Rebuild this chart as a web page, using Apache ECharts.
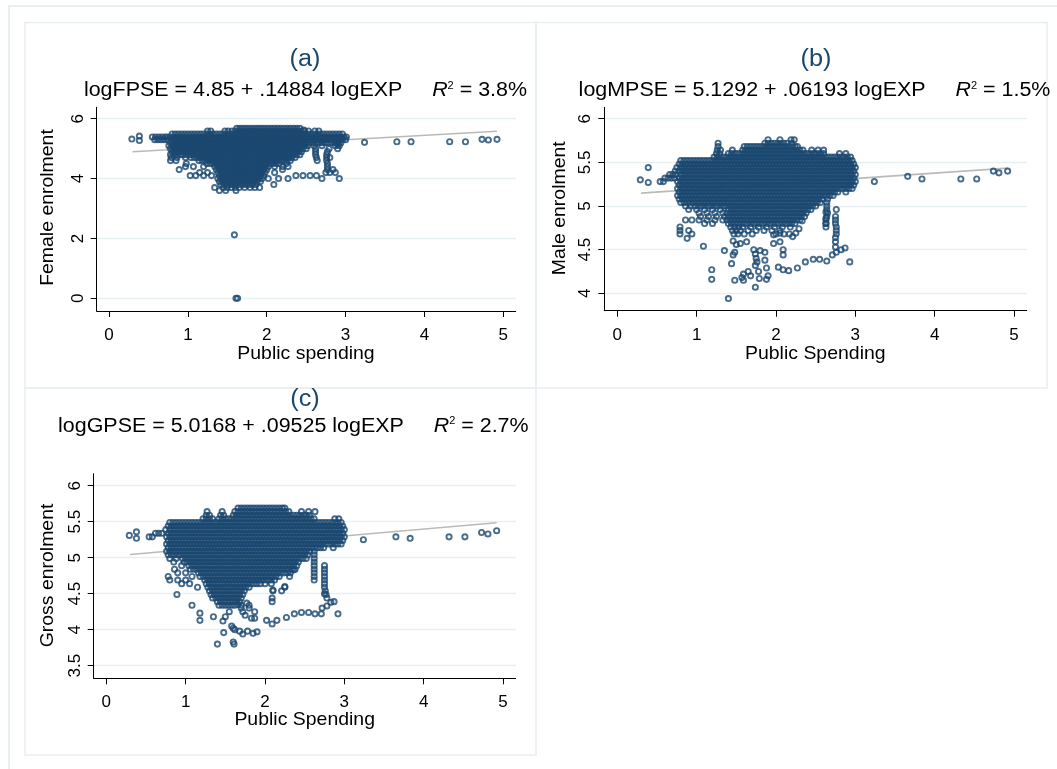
<!DOCTYPE html>
<html><head><meta charset="utf-8">
<script src="https://cdn.jsdelivr.net/npm/echarts@6/dist/echarts.min.js"></script>
<style>html,body{margin:0;padding:0;background:#fff}#c{width:1057px;height:769px}</style>
</head><body><div id="c"></div>
<script>
// ---------- tick labels ----------
const xTicks = [0, 1, 2, 3, 4, 5];
const femaleTicks = [0, 2, 4, 6];
const maleTicks = [4, 4.5, 5, 5.5, 6];
const grossTicks = [3.5, 4, 4.5, 5, 5.5, 6];

// ---------- fitted lines (endpoints) ----------
const femaleFit = [[0.3, 4.895], [4.92, 5.58]];
const maleFit = [[0.3, 5.148], [4.92, 5.434]];
const grossFit = [[0.3, 5.045], [4.92, 5.485]];

// ---------- panel (a): female enrolment, rows of [y, [x...]] ----------
const femaleRows = [
[5.68,[1.62,1.66,1.7,1.74,1.78,1.82,1.86,1.9,1.94,1.98,2.02,2.06,2.1,2.14,2.18,2.22,2.26,2.3,2.34,2.38,2.42]],
[5.59,[1.25,1.29,1.47,1.51,1.56,1.6,1.64,1.68,1.72,1.76,1.8,1.84,1.88,1.92,1.96,2,2.04,2.08,2.12,2.16,2.2,2.24,2.28,2.32,2.36,2.4,2.44,2.48,2.53,2.61,2.66]],
[5.49,[0.8,0.84,0.88,0.92,0.96,1,1.04,1.08,1.12,1.16,1.2,1.24,1.28,1.32,1.36,1.4,1.44,1.48,1.52,1.56,1.6,1.64,1.68,1.72,1.76,1.8,1.84,1.88,1.92,1.96,2,2.04,2.08,2.12,2.16,2.2,2.24,2.28,2.32,2.36,2.4,2.44,2.48,2.52,2.56,2.6,2.64,2.68,2.72,2.76,2.8,2.84,2.88,2.92,2.96]],
[5.39,[0.55,0.59,0.63,0.67,0.71,0.74,0.78,0.82,0.86,0.9,0.94,0.98,1.02,1.06,1.1,1.14,1.18,1.22,1.26,1.3,1.34,1.38,1.42,1.46,1.5,1.54,1.58,1.62,1.66,1.7,1.74,1.78,1.82,1.86,1.9,1.94,1.98,2.02,2.06,2.1,2.14,2.18,2.22,2.26,2.3,2.34,2.38,2.42,2.46,2.5,2.54,2.58,2.62,2.66,2.7,2.74,2.78,2.82,2.86,2.9,2.94,2.98,3.01]],
[5.3,[0.58,0.62,0.66,0.7,0.74,0.8,0.84,0.88,0.92,0.96,1,1.04,1.08,1.12,1.16,1.2,1.24,1.28,1.32,1.36,1.4,1.44,1.48,1.52,1.56,1.6,1.64,1.68,1.72,1.76,1.8,1.84,1.88,1.92,1.96,2,2.04,2.08,2.12,2.16,2.2,2.24,2.28,2.32,2.36,2.4,2.44,2.48,2.52,2.56,2.6,2.64,2.68,2.72,2.76,2.8,2.84,2.88,2.92,2.96,3]],
[5.2,[0.78,0.82,0.86,0.9,0.94,0.98,1.02,1.06,1.1,1.14,1.18,1.22,1.26,1.3,1.34,1.38,1.42,1.46,1.5,1.54,1.58,1.62,1.66,1.7,1.74,1.78,1.82,1.86,1.9,1.94,1.98,2.02,2.06,2.1,2.14,2.18,2.22,2.26,2.3,2.34,2.38,2.42,2.46,2.5,2.54,2.58,2.62,2.66,2.7,2.74,2.78,2.82,2.86,2.9,2.94]],
[5.1,[0.76,0.8,0.84,0.88,0.92,0.96,1,1.04,1.08,1.12,1.16,1.2,1.24,1.28,1.32,1.36,1.4,1.44,1.48,1.52,1.56,1.6,1.64,1.68,1.72,1.76,1.8,1.84,1.88,1.92,1.96,2,2.04,2.08,2.12,2.16,2.2,2.24,2.28,2.32,2.36,2.4,2.44,2.48,2.52,2.6,2.7,2.87,2.92]],
[5.0,[0.78,0.82,0.86,0.9,0.94,0.98,1.02,1.06,1.1,1.14,1.18,1.22,1.26,1.3,1.34,1.38,1.42,1.46,1.5,1.54,1.58,1.62,1.66,1.7,1.74,1.78,1.82,1.86,1.9,1.94,1.98,2.02,2.06,2.1,2.14,2.18,2.22,2.26,2.3,2.34,2.38,2.42,2.46,2.5,2.62,2.79,2.9]],
[4.9,[0.8,0.84,0.88,0.92,0.96,1,1.04,1.08,1.12,1.16,1.2,1.24,1.28,1.32,1.36,1.4,1.44,1.48,1.52,1.56,1.6,1.64,1.68,1.72,1.76,1.8,1.84,1.88,1.92,1.96,2,2.04,2.08,2.12,2.16,2.2,2.24,2.28,2.32,2.36,2.4,2.44,2.62,2.77]],
[4.8,[0.78,0.82,0.86,0.9,0.94,0.98,1.02,1.06,1.1,1.14,1.18,1.22,1.26,1.3,1.34,1.38,1.42,1.46,1.5,1.54,1.58,1.62,1.66,1.7,1.74,1.78,1.82,1.86,1.9,1.94,1.98,2.02,2.06,2.1,2.14,2.18,2.22,2.26,2.3,2.34,2.38,2.42,2.62,2.76]],
[4.7,[0.79,0.86,0.97,1.04,1.08,1.12,1.16,1.2,1.24,1.28,1.32,1.36,1.4,1.44,1.48,1.52,1.56,1.6,1.64,1.68,1.72,1.76,1.8,1.84,1.88,1.92,1.96,2,2.04,2.08,2.12,2.16,2.2,2.24,2.28,2.32,2.36,2.63,2.76,2.8]],
[4.6,[0.78,0.85,1.14,1.18,1.22,1.26,1.3,1.34,1.38,1.42,1.46,1.5,1.54,1.58,1.62,1.66,1.7,1.74,1.78,1.82,1.86,1.9,1.94,1.98,2.02,2.06,2.1,2.14,2.18,2.22,2.26,2.3,2.64,2.76]],
[4.5,[0.98,1.24,1.28,1.32,1.36,1.4,1.44,1.48,1.52,1.56,1.6,1.64,1.68,1.72,1.76,1.8,1.84,1.88,1.92,1.96,2,2.04,2.08,2.12,2.16,2.25,2.77]],
[4.4,[0.97,1.07,1.2,1.34,1.38,1.42,1.46,1.5,1.54,1.58,1.62,1.66,1.7,1.74,1.78,1.82,1.86,1.9,1.94,1.98,2.02,2.1,2.2,2.27,2.77]],
[4.3,[0.89,1.36,1.4,1.44,1.48,1.52,1.56,1.6,1.64,1.68,1.72,1.76,1.8,1.84,1.88,1.92,1.96,2,2.2,2.77,2.84]],
[4.2,[1.15,1.25,1.38,1.42,1.46,1.5,1.54,1.58,1.62,1.66,1.7,1.74,1.78,1.82,1.86,1.9,1.94,1.98,2.1,2.75,2.8,2.87]],
[4.1,[1.03,1.1,1.2,1.3,1.4,1.44,1.48,1.52,1.56,1.6,1.64,1.68,1.72,1.76,1.8,1.84,1.88,1.92,1.96,2.37,2.46,2.55,2.63]],
[4.0,[1.38,1.42,1.46,1.5,1.54,1.58,1.62,1.66,1.7,1.74,1.78,1.82,1.86,1.9,1.94,2.02,2.15,2.27,2.7,2.92]],
[3.9,[1.4,1.44,1.48,1.52,1.56,1.6,1.64,1.68,1.72,1.76,1.8,1.84,1.88,1.92]],
[3.8,[1.42,1.46,1.5,1.54,1.58,1.62,1.66,1.7,1.74,1.78,1.82,1.86,2.09]],
[3.7,[1.34,1.45,1.5,1.55,1.6,1.65,1.72,1.79,1.85,1.91]],
[3.6,[1.4,1.48,1.61]]
];
const femaleOutliers = [[0.29,5.32],[0.385,5.42],[0.385,5.27],[3.24,5.21],[3.65,5.23],[3.83,5.23],[4.32,5.23],[4.52,5.23],[4.73,5.31],[4.81,5.29],[4.92,5.31],[1.59,2.12],[1.61,0],[1.63,0],[2.47,5.62],[2.9,5.15]];

// ---------- panel (b): male enrolment ----------
const maleRows = [
[5.76,[1.9,2.05,2.19,2.23]],
[5.72,[1.27,1.86,1.9,1.94,1.98,2.02,2.06,2.1,2.14,2.2]],
[5.68,[1.27,1.6,1.64,1.68,1.72,1.76,1.8,1.84,1.88,1.92,1.96,2,2.04,2.08,2.12,2.16,2.2,2.24,2.27]],
[5.64,[1.26,1.3,1.45,1.58,1.62,1.66,1.7,1.74,1.78,1.82,1.86,1.9,1.94,1.98,2.02,2.06,2.1,2.14,2.18,2.22,2.26,2.3,2.34,2.45,2.53,2.6]],
[5.6,[1.25,1.29,1.4,1.44,1.48,1.52,1.56,1.6,1.64,1.68,1.72,1.76,1.8,1.84,1.88,1.92,1.96,2,2.04,2.08,2.12,2.16,2.2,2.24,2.28,2.32,2.36,2.4,2.44,2.48,2.52,2.56,2.6,2.8,2.88]],
[5.56,[1.22,1.26,1.3,1.34,1.38,1.42,1.46,1.5,1.54,1.58,1.62,1.66,1.7,1.74,1.78,1.82,1.86,1.9,1.94,1.98,2.02,2.06,2.1,2.14,2.18,2.22,2.26,2.3,2.34,2.38,2.42,2.46,2.5,2.54,2.58,2.62,2.66,2.7,2.74,2.78,2.82,2.86,2.9,2.94]],
[5.52,[0.8,0.84,0.88,0.92,0.96,1,1.04,1.08,1.12,1.16,1.2,1.24,1.28,1.32,1.36,1.4,1.44,1.48,1.52,1.56,1.6,1.64,1.68,1.72,1.76,1.8,1.84,1.88,1.92,1.96,2,2.04,2.08,2.12,2.16,2.2,2.24,2.28,2.32,2.36,2.4,2.44,2.48,2.52,2.56,2.6,2.64,2.68,2.72,2.76,2.8,2.84,2.88,2.92,2.96]],
[5.48,[0.78,0.82,0.86,0.9,0.94,0.98,1.02,1.06,1.1,1.14,1.18,1.22,1.26,1.3,1.34,1.38,1.42,1.46,1.5,1.54,1.58,1.62,1.66,1.7,1.74,1.78,1.82,1.86,1.9,1.94,1.98,2.02,2.06,2.1,2.14,2.18,2.22,2.26,2.3,2.34,2.38,2.42,2.46,2.5,2.54,2.58,2.62,2.66,2.7,2.74,2.78,2.82,2.86,2.9,2.94,2.98]],
[5.44,[0.75,0.8,0.84,0.88,0.92,0.96,1,1.04,1.08,1.12,1.16,1.2,1.24,1.28,1.32,1.36,1.4,1.44,1.48,1.52,1.56,1.6,1.64,1.68,1.72,1.76,1.8,1.84,1.88,1.92,1.96,2,2.04,2.08,2.12,2.16,2.2,2.24,2.28,2.32,2.36,2.4,2.44,2.48,2.52,2.56,2.6,2.64,2.68,2.72,2.76,2.8,2.84,2.88,2.92,2.96,3]],
[5.4,[0.73,0.78,0.82,0.86,0.9,0.94,0.98,1.02,1.06,1.1,1.14,1.18,1.22,1.26,1.3,1.34,1.38,1.42,1.46,1.5,1.54,1.58,1.62,1.66,1.7,1.74,1.78,1.82,1.86,1.9,1.94,1.98,2.02,2.06,2.1,2.14,2.18,2.22,2.26,2.3,2.34,2.38,2.42,2.46,2.5,2.54,2.58,2.62,2.66,2.7,2.74,2.78,2.82,2.86,2.9,2.94,2.98]],
[5.36,[0.66,0.7,0.74,0.8,0.84,0.88,0.92,0.96,1,1.04,1.08,1.12,1.16,1.2,1.24,1.28,1.32,1.36,1.4,1.44,1.48,1.52,1.56,1.6,1.64,1.68,1.72,1.76,1.8,1.84,1.88,1.92,1.96,2,2.04,2.08,2.12,2.16,2.2,2.24,2.28,2.32,2.36,2.4,2.44,2.48,2.52,2.56,2.6,2.64,2.68,2.72,2.76,2.8,2.84,2.88,2.92,2.96,3]],
[5.32,[0.6,0.64,0.68,0.72,0.78,0.82,0.86,0.9,0.94,0.98,1.02,1.06,1.1,1.14,1.18,1.22,1.26,1.3,1.34,1.38,1.42,1.46,1.5,1.54,1.58,1.62,1.66,1.7,1.74,1.78,1.82,1.86,1.9,1.94,1.98,2.02,2.06,2.1,2.14,2.18,2.22,2.26,2.3,2.34,2.38,2.42,2.46,2.5,2.54,2.58,2.62,2.66,2.7,2.74,2.78,2.82,2.86,2.9,2.94,2.98]],
[5.28,[0.54,0.58,0.76,0.8,0.84,0.88,0.92,0.96,1,1.04,1.08,1.12,1.16,1.2,1.24,1.28,1.32,1.36,1.4,1.44,1.48,1.52,1.56,1.6,1.64,1.68,1.72,1.76,1.8,1.84,1.88,1.92,1.96,2,2.04,2.08,2.12,2.16,2.2,2.24,2.28,2.32,2.36,2.4,2.44,2.48,2.52,2.56,2.6,2.64,2.68,2.72,2.76,2.8,2.84,2.88,2.92,2.96,3]],
[5.24,[0.78,0.82,0.86,0.9,0.94,0.98,1.02,1.06,1.1,1.14,1.18,1.22,1.26,1.3,1.34,1.38,1.42,1.46,1.5,1.54,1.58,1.62,1.66,1.7,1.74,1.78,1.82,1.86,1.9,1.94,1.98,2.02,2.06,2.1,2.14,2.18,2.22,2.26,2.3,2.34,2.38,2.42,2.46,2.5,2.54,2.58,2.62,2.66,2.7,2.74,2.78,2.82,2.86,2.9,2.94,2.98]],
[5.2,[0.76,0.8,0.84,0.88,0.92,0.96,1,1.04,1.08,1.12,1.16,1.2,1.24,1.28,1.32,1.36,1.4,1.44,1.48,1.52,1.56,1.6,1.64,1.68,1.72,1.76,1.8,1.84,1.88,1.92,1.96,2,2.04,2.08,2.12,2.16,2.2,2.24,2.28,2.32,2.36,2.4,2.44,2.48,2.52,2.56,2.6,2.64,2.68,2.72,2.76,2.8,2.84,2.88,2.92,2.96]],
[5.16,[0.78,0.82,0.86,0.9,0.94,0.98,1.02,1.06,1.1,1.14,1.18,1.22,1.26,1.3,1.34,1.38,1.42,1.46,1.5,1.54,1.58,1.62,1.66,1.7,1.74,1.78,1.82,1.86,1.9,1.94,1.98,2.02,2.06,2.1,2.14,2.18,2.22,2.26,2.3,2.34,2.38,2.42,2.46,2.5,2.54,2.58,2.62,2.66,2.7,2.74,2.78,2.88]],
[5.12,[0.76,0.8,0.84,0.88,0.92,0.96,1,1.04,1.08,1.12,1.16,1.2,1.24,1.28,1.32,1.36,1.4,1.44,1.48,1.52,1.56,1.6,1.64,1.68,1.72,1.76,1.8,1.84,1.88,1.92,1.96,2,2.04,2.08,2.12,2.16,2.2,2.24,2.28,2.32,2.36,2.4,2.44,2.48,2.52,2.56,2.6,2.64,2.68,2.72]],
[5.08,[0.78,0.82,0.86,0.9,0.94,0.98,1.02,1.06,1.1,1.14,1.18,1.22,1.26,1.3,1.34,1.38,1.42,1.46,1.5,1.54,1.58,1.62,1.66,1.7,1.74,1.78,1.82,1.86,1.9,1.94,1.98,2.02,2.06,2.1,2.14,2.18,2.22,2.26,2.3,2.34,2.38,2.42,2.46,2.5,2.54,2.58,2.65]],
[5.04,[0.8,0.84,0.88,0.92,0.96,1,1.04,1.08,1.12,1.16,1.2,1.24,1.28,1.32,1.36,1.4,1.44,1.48,1.52,1.56,1.6,1.64,1.68,1.72,1.76,1.8,1.84,1.88,1.92,1.96,2,2.04,2.08,2.12,2.16,2.2,2.24,2.28,2.32,2.36,2.4,2.44,2.48,2.52,2.56,2.64]],
[5.0,[0.86,0.92,0.98,1.02,1.06,1.1,1.14,1.18,1.22,1.26,1.3,1.34,1.38,1.42,1.46,1.5,1.54,1.58,1.62,1.66,1.7,1.74,1.78,1.82,1.86,1.9,1.94,1.98,2.02,2.06,2.1,2.14,2.18,2.22,2.26,2.3,2.34,2.38,2.42,2.46,2.5,2.64]],
[4.96,[0.9,1,1.1,1.2,1.3,1.4,1.44,1.48,1.52,1.56,1.6,1.64,1.68,1.72,1.76,1.8,1.84,1.88,1.92,1.96,2,2.04,2.08,2.12,2.16,2.2,2.24,2.28,2.32,2.36,2.4,2.44,2.64,2.76]],
[4.92,[1.03,1.13,1.23,1.33,1.38,1.42,1.46,1.5,1.54,1.58,1.62,1.66,1.7,1.74,1.78,1.82,1.86,1.9,1.94,1.98,2.02,2.06,2.1,2.14,2.18,2.22,2.26,2.3,2.34,2.38,2.65]],
[4.88,[1.05,1.15,1.25,1.35,1.4,1.44,1.48,1.52,1.56,1.6,1.64,1.68,1.72,1.76,1.8,1.84,1.88,1.92,1.96,2,2.04,2.08,2.12,2.16,2.2,2.24,2.28,2.32,2.36,2.64,2.75]],
[4.84,[0.86,0.94,1.03,1.13,1.23,1.33,1.38,1.42,1.46,1.5,1.54,1.58,1.62,1.66,1.7,1.74,1.78,1.82,1.86,1.9,1.94,1.98,2.02,2.06,2.1,2.14,2.18,2.22,2.26,2.3,2.63,2.75]],
[4.8,[1.1,1.2,1.4,1.44,1.48,1.52,1.56,1.6,1.64,1.68,1.72,1.76,1.8,1.84,1.88,1.92,1.96,2,2.04,2.08,2.12,2.16,2.2,2.24,2.63,2.75]],
[4.76,[0.79,1.43,1.48,1.53,1.58,1.68,1.78,1.88,1.98,2.08,2.18,2.63,2.76]],
[4.72,[0.79,0.9,1.45,1.5,1.55,1.65,1.75,1.85,1.95,2.05,2.76]],
[4.68,[0.79,0.94,1.47,1.52,1.6,1.7,2,2.1,2.17,2.76]]
];
const maleOutliers = [[0.29,5.3],[0.39,5.44],[0.39,5.27],[3.24,5.28],[3.66,5.34],[3.84,5.31],[4.33,5.31],[4.53,5.31],[4.74,5.4],[4.81,5.38],[4.92,5.4],
[0.88,4.63],[1.085,4.54],[1.19,4.27],[1.19,4.16],[1.35,4.49],[1.4,3.94],[1.44,4.34],[1.46,4.44],[1.48,4.47],[1.48,4.15],[1.46,4.6],[1.5,4.56],[1.55,4.57],[1.63,4.59],[1.59,4.22],[1.57,4.18],[1.59,4.15],[1.65,4.25],[1.68,4.2],[1.74,4.07],[1.72,4.5],[1.74,4.45],[1.75,4.4],[1.76,4.36],[1.74,4.32],[1.78,4.25],[1.79,4.17],[1.88,4.16],[1.9,4.2],[1.88,4.29],[1.86,4.38],[1.8,4.49],[1.86,4.47],[1.97,4.57],[2.05,4.59],[1.97,4.67],[2.05,4.69],[2.03,4.3],[2.09,4.27],[2.16,4.26],[2.09,4.5],[2.09,4.44],[2.27,4.29],[2.21,4.65],[2.25,4.69],[2.29,4.74],[2.33,4.83],[2.37,4.36],[2.47,4.39],[2.55,4.39],[2.64,4.37],[2.71,4.44],[2.76,4.47],[2.82,4.5],[2.87,4.52],[2.93,4.36],[2.75,4.53],[2.75,4.59],[2.75,4.64],[2.63,4.93],[2.63,4.86],[2.63,4.8]];

// ---------- panel (c): gross enrolment ----------
const grossRows = [
[5.69,[1.66,1.7,1.74,1.78,1.82,1.86,1.9,1.94,1.98,2.02,2.06,2.1,2.14,2.18,2.22,2.25]],
[5.64,[1.27,1.46,1.62,1.66,1.7,1.74,1.78,1.82,1.86,1.9,1.94,1.98,2.02,2.06,2.1,2.14,2.18,2.22,2.26,2.3,2.46,2.55,2.63]],
[5.59,[1.26,1.3,1.44,1.48,1.6,1.64,1.68,1.72,1.76,1.8,1.84,1.88,1.92,1.96,2,2.04,2.08,2.12,2.16,2.2,2.24,2.28,2.32,2.36,2.4,2.44,2.48,2.52,2.56]],
[5.54,[1.22,1.26,1.3,1.34,1.42,1.46,1.5,1.54,1.58,1.62,1.66,1.7,1.74,1.78,1.82,1.86,1.9,1.94,1.98,2.02,2.06,2.1,2.14,2.18,2.22,2.26,2.3,2.34,2.38,2.42,2.46,2.5,2.54,2.58,2.62,2.88,2.93]],
[5.49,[0.8,0.84,0.88,0.92,0.96,1,1.04,1.08,1.12,1.16,1.2,1.24,1.28,1.32,1.36,1.4,1.44,1.48,1.52,1.56,1.6,1.64,1.68,1.72,1.76,1.8,1.84,1.88,1.92,1.96,2,2.04,2.08,2.12,2.16,2.2,2.24,2.28,2.32,2.36,2.4,2.44,2.48,2.52,2.56,2.6,2.64,2.68,2.72,2.76,2.8,2.84,2.88,2.92,2.96]],
[5.44,[0.78,0.82,0.86,0.9,0.94,0.98,1.02,1.06,1.1,1.14,1.18,1.22,1.26,1.3,1.34,1.38,1.42,1.46,1.5,1.54,1.58,1.62,1.66,1.7,1.74,1.78,1.82,1.86,1.9,1.94,1.98,2.02,2.06,2.1,2.14,2.18,2.22,2.26,2.3,2.34,2.38,2.42,2.46,2.5,2.54,2.58,2.62,2.66,2.7,2.74,2.78,2.82,2.86,2.9,2.94,2.98]],
[5.39,[0.75,0.8,0.84,0.88,0.92,0.96,1,1.04,1.08,1.12,1.16,1.2,1.24,1.28,1.32,1.36,1.4,1.44,1.48,1.52,1.56,1.6,1.64,1.68,1.72,1.76,1.8,1.84,1.88,1.92,1.96,2,2.04,2.08,2.12,2.16,2.2,2.24,2.28,2.32,2.36,2.4,2.44,2.48,2.52,2.56,2.6,2.64,2.68,2.72,2.76,2.8,2.84,2.88,2.92,2.96,3]],
[5.34,[0.62,0.66,0.7,0.78,0.82,0.86,0.9,0.94,0.98,1.02,1.06,1.1,1.14,1.18,1.22,1.26,1.3,1.34,1.38,1.42,1.46,1.5,1.54,1.58,1.62,1.66,1.7,1.74,1.78,1.82,1.86,1.9,1.94,1.98,2.02,2.06,2.1,2.14,2.18,2.22,2.26,2.3,2.34,2.38,2.42,2.46,2.5,2.54,2.58,2.62,2.66,2.7,2.74,2.78,2.82,2.86,2.9,2.94,2.98]],
[5.29,[0.54,0.58,0.76,0.8,0.84,0.88,0.92,0.96,1,1.04,1.08,1.12,1.16,1.2,1.24,1.28,1.32,1.36,1.4,1.44,1.48,1.52,1.56,1.6,1.64,1.68,1.72,1.76,1.8,1.84,1.88,1.92,1.96,2,2.04,2.08,2.12,2.16,2.2,2.24,2.28,2.32,2.36,2.4,2.44,2.48,2.52,2.56,2.6,2.64,2.68,2.72,2.76,2.8,2.84,2.88,2.92,2.96,3]],
[5.24,[0.78,0.82,0.86,0.9,0.94,0.98,1.02,1.06,1.1,1.14,1.18,1.22,1.26,1.3,1.34,1.38,1.42,1.46,1.5,1.54,1.58,1.62,1.66,1.7,1.74,1.78,1.82,1.86,1.9,1.94,1.98,2.02,2.06,2.1,2.14,2.18,2.22,2.26,2.3,2.34,2.38,2.42,2.46,2.5,2.54,2.58,2.62,2.66,2.7,2.74,2.78,2.82,2.86,2.9,2.94,2.98]],
[5.19,[0.76,0.8,0.84,0.88,0.92,0.96,1,1.04,1.08,1.12,1.16,1.2,1.24,1.28,1.32,1.36,1.4,1.44,1.48,1.52,1.56,1.6,1.64,1.68,1.72,1.76,1.8,1.84,1.88,1.92,1.96,2,2.04,2.08,2.12,2.16,2.2,2.24,2.28,2.32,2.36,2.4,2.44,2.48,2.52,2.56,2.6,2.64,2.68,2.72,2.76,2.8,2.84,2.88,2.92,2.96]],
[5.14,[0.78,0.82,0.86,0.9,0.94,0.98,1.02,1.06,1.1,1.14,1.18,1.22,1.26,1.3,1.34,1.38,1.42,1.46,1.5,1.54,1.58,1.62,1.66,1.7,1.74,1.78,1.82,1.86,1.9,1.94,1.98,2.02,2.06,2.1,2.14,2.18,2.22,2.26,2.3,2.34,2.38,2.42,2.46,2.5,2.54,2.58,2.62,2.66,2.7,2.74,2.86]],
[5.09,[0.76,0.8,0.84,0.88,0.92,0.96,1,1.04,1.08,1.12,1.16,1.2,1.24,1.28,1.32,1.36,1.4,1.44,1.48,1.52,1.56,1.6,1.64,1.68,1.72,1.76,1.8,1.84,1.88,1.92,1.96,2,2.04,2.08,2.12,2.16,2.2,2.24,2.28,2.32,2.36,2.4,2.44,2.48,2.52,2.56,2.62]],
[5.04,[0.78,0.82,0.86,0.9,0.94,0.98,1.02,1.06,1.1,1.14,1.18,1.22,1.26,1.3,1.34,1.38,1.42,1.46,1.5,1.54,1.58,1.62,1.66,1.7,1.74,1.78,1.82,1.86,1.9,1.94,1.98,2.02,2.06,2.1,2.14,2.18,2.22,2.26,2.3,2.34,2.38,2.42,2.46,2.5,2.54,2.62]],
[4.99,[0.8,0.88,0.96,1,1.04,1.08,1.12,1.16,1.2,1.24,1.28,1.32,1.36,1.4,1.44,1.48,1.52,1.56,1.6,1.64,1.68,1.72,1.76,1.8,1.84,1.88,1.92,1.96,2,2.04,2.08,2.12,2.16,2.2,2.24,2.28,2.32,2.36,2.4,2.44,2.48,2.52,2.62]],
[4.94,[0.85,0.98,1.02,1.06,1.1,1.14,1.18,1.22,1.26,1.3,1.34,1.38,1.42,1.46,1.5,1.54,1.58,1.62,1.66,1.7,1.74,1.78,1.82,1.86,1.9,1.94,1.98,2.02,2.06,2.1,2.14,2.18,2.22,2.26,2.3,2.34,2.38,2.42,2.62]],
[4.89,[0.95,1.04,1.08,1.12,1.16,1.2,1.24,1.28,1.32,1.36,1.4,1.44,1.48,1.52,1.56,1.6,1.64,1.68,1.72,1.76,1.8,1.84,1.88,1.92,1.96,2,2.04,2.08,2.12,2.16,2.2,2.24,2.28,2.32,2.36,2.4,2.62,2.75]],
[4.84,[0.86,1.06,1.1,1.14,1.18,1.22,1.26,1.3,1.34,1.38,1.42,1.46,1.5,1.54,1.58,1.62,1.66,1.7,1.74,1.78,1.82,1.86,1.9,1.94,1.98,2.02,2.06,2.1,2.14,2.18,2.22,2.26,2.3,2.34,2.38,2.62,2.75]],
[4.79,[0.9,1,1.16,1.2,1.24,1.28,1.32,1.36,1.4,1.44,1.48,1.52,1.56,1.6,1.64,1.68,1.72,1.76,1.8,1.84,1.88,1.92,1.96,2,2.04,2.08,2.12,2.16,2.2,2.24,2.28,2.32,2.62,2.75]],
[4.74,[0.78,1.08,1.18,1.22,1.26,1.3,1.34,1.38,1.42,1.46,1.5,1.54,1.58,1.62,1.66,1.7,1.74,1.78,1.82,1.86,1.9,1.94,1.98,2.02,2.06,2.1,2.14,2.18,2.31,2.62,2.75]],
[4.69,[0.8,0.9,1,1.24,1.28,1.32,1.36,1.4,1.44,1.48,1.52,1.56,1.6,1.64,1.68,1.72,1.76,1.8,1.84,1.88,1.92,1.96,2,2.04,2.08,2.12,2.62,2.75]],
[4.64,[0.95,1.05,1.26,1.3,1.34,1.38,1.42,1.46,1.5,1.54,1.58,1.62,1.66,1.7,1.74,1.78,1.82,1.86,1.9,1.94,2,2.08,2.75]],
[4.59,[1.15,1.28,1.32,1.36,1.4,1.44,1.48,1.52,1.56,1.6,1.64,1.68,1.72,1.76,1.8,2.25,2.75]],
[4.54,[1.3,1.34,1.38,1.42,1.46,1.5,1.54,1.58,1.62,1.66,1.7,1.74,2.1,2.21,2.76]],
[4.49,[0.89,1.32,1.36,1.4,1.44,1.48,1.52,1.56,1.6,1.64,1.68,1.72,2.77]],
[4.44,[1.34,1.38,1.42,1.46,1.5,1.54,1.58,1.62,1.66,1.7,2.09,2.78]],
[4.39,[1.4,1.44,1.48,1.52,1.56,1.6,1.64,1.68,2.09,2.87]],
[4.34,[1.08,1.42,1.46,1.5,1.54,1.58,1.62,1.7,1.8]]
];
const grossOutliers = [[0.29,5.31],[0.38,5.36],[0.38,5.27],[3.24,5.25],[3.65,5.29],[3.83,5.27],[4.32,5.29],[4.52,5.29],[4.73,5.35],[4.81,5.33],[4.92,5.375],
[1.18,4.23],[1.18,4.13],[1.35,4.18],[1.4,3.8],[1.48,3.96],[1.6,3.83],[1.61,3.8],[1.5,4.18],[1.47,4.12],[1.55,4.25],[1.58,4.05],[1.6,4.02],[1.62,4],[1.68,3.98],[1.72,3.94],[1.78,3.98],[1.85,3.95],[1.9,3.97],[1.87,4.25],[1.87,4.16],[1.83,4.16],[1.75,4.2],[1.72,4.25],[1.7,4.3],[1.8,4.3],[1.66,4.35],[1.77,4.37],[2.1,4.55],[2.25,4.6],[2.36,4.83],[2.02,4.13],[2.09,4.08],[2.15,4.13],[2.27,4.17],[2.37,4.22],[2.46,4.24],[2.55,4.24],[2.63,4.22],[2.71,4.22],[2.72,4.3],[2.78,4.33],[2.83,4.38],[2.92,4.22],[2.75,4.5]];

// ---------- build ----------
function toPoints(rows, extra) {
  const pts = [];
  rows.forEach(function (r) { r[1].forEach(function (x) { pts.push([x, r[0]]); }); });
  return pts.concat(extra);
}
const NAVY = '#1a476f', GRID = '#e6eff2', BORDER = '#e8eff1', FONT = '"Liberation Sans", Arial, sans-serif';
const panels = [
  {grid:{left:96.7, top:107.3, width:419, height:203.7}, x:[-0.156,5.157], y:[-0.424,6.381], yt:femaleTicks, pts:toPoints(femaleRows,femaleOutliers), fit:femaleFit},
  {grid:{left:604.3, top:107.3, width:422.4, height:203.4}, x:[-0.164,5.16], y:[3.801,6.131], yt:maleTicks, pts:toPoints(maleRows,maleOutliers), fit:maleFit},
  {grid:{left:93.7, top:473.7, width:422, height:204.6}, x:[-0.159,5.16], y:[3.325,6.167], yt:grossTicks, pts:toPoints(grossRows,grossOutliers), fit:grossFit}
];
const grids = [], xAxes = [], yAxes = [], series = [];
panels.forEach(function (p, i) {
  grids.push(Object.assign({containLabel:false}, p.grid));
  xAxes.push({type:'value', gridIndex:i, min:p.x[0], max:p.x[1],
    axisLine:{show:true, onZero:false, lineStyle:{color:'#000', width:1}},
    axisTick:{show:true, length:6, customValues:xTicks, lineStyle:{color:'#000', width:1}},
    axisLabel:{customValues:xTicks, fontSize:17, color:'#000', fontFamily:FONT, margin:16},
    splitLine:{show:false}});
  yAxes.push({type:'value', gridIndex:i, min:p.y[0], max:p.y[1],
    axisLine:{show:true, onZero:false, lineStyle:{color:'#000', width:1}},
    axisTick:{show:true, length:6, customValues:p.yt, lineStyle:{color:'#000', width:1}},
    axisLabel:{customValues:p.yt, fontSize:17, color:'#000', fontFamily:FONT, rotate:90, margin:10},
    splitLine:{show:true, lineStyle:{color:GRID, width:1.3}}});
  series.push({type:'line', xAxisIndex:i, yAxisIndex:i, data:p.fit, symbol:'none', silent:true, z:1,
    lineStyle:{color:'#bababa', width:1.6}});
  series.push({type:'scatter', xAxisIndex:i, yAxisIndex:i, data:p.pts, symbol:'circle', symbolSize:5.2,
    silent:true, z:2, progressive:0, large:false,
    itemStyle:{color:'rgba(0,0,0,0)', borderColor:NAVY, borderWidth:1.9}});
});

function txt(x, y, text, size, color, opts) {
  opts = opts || {};
  return {type:'text', x:x, y:y, rotation:opts.rot || 0, scaleX:opts.sx || 1, silent:true, z:10,
    style:{text:text, fontSize:size, fontFamily:FONT, fill:color, align:'center', verticalAlign:'middle',
      textAlign:'center', textVerticalAlign:'middle', rich:opts.rich}};
}
function sub(x, y, left, right) {
  const rich = {
    n:{fontSize:19.5, fontFamily:FONT, fill:'#000', color:'#000'},
    i:{fontSize:19.5, fontFamily:FONT, fontStyle:'italic', fill:'#000', color:'#000'},
    s:{fontSize:10, fontFamily:FONT, fill:'#000', color:'#000', verticalAlign:'top'}
  };
  return txt(x, y, '{n|' + left + '     }{i|R}{s|2}{n| = ' + right + '}', 19.5, '#000', {rich:rich, sx:1.1});
}
const graphic = [
  {type:'rect', shape:{x:9, y:6, width:1100, height:800}, style:{fill:'none', stroke:BORDER, lineWidth:2}, silent:true, z:-5},
  {type:'rect', shape:{x:25, y:22.5, width:511, height:365.5}, style:{fill:'none', stroke:BORDER, lineWidth:1.5}, silent:true, z:-5},
  {type:'rect', shape:{x:536, y:22.5, width:511, height:365.5}, style:{fill:'none', stroke:BORDER, lineWidth:1.5}, silent:true, z:-5},
  {type:'rect', shape:{x:25, y:388, width:511, height:367}, style:{fill:'none', stroke:BORDER, lineWidth:1.5}, silent:true, z:-5},
  txt(305, 60, '(a)', 23, NAVY, {sx:1.1}),
  txt(816, 60, '(b)', 23, NAVY, {sx:1.1}),
  txt(305, 400, '(c)', 23, NAVY, {sx:1.1}),
  sub(305.5, 91, 'logFPSE = 4.85 + .14884 logEXP', '3.8%'),
  sub(814.5, 91, 'logMPSE = 5.1292 + .06193 logEXP', '1.5%'),
  sub(293.3, 426.5, 'logGPSE = 5.0168 + .09525 logEXP', '2.7%'),
  txt(306, 354, 'Public spending', 17.7, '#000', {sx:1.1}),
  txt(815.3, 354, 'Public Spending', 17.7, '#000', {sx:1.1}),
  txt(304.7, 720.5, 'Public Spending', 17.7, '#000', {sx:1.1}),
  txt(48.3, 207.5, 'Female enrolment', 18, '#000', {rot:Math.PI/2, sx:1.08}),
  txt(559.7, 208.3, 'Male enrolment', 18, '#000', {rot:Math.PI/2, sx:1.08}),
  txt(48.2, 575.5, 'Gross enrolment', 18, '#000', {rot:Math.PI/2, sx:1.08})
];

const chart = echarts.init(document.getElementById('c'), null, {renderer:'canvas'});
chart.setOption({animation:false, backgroundColor:'#fff', grid:grids, xAxis:xAxes, yAxis:yAxes, series:series, graphic:graphic});
</script>
</body></html>
